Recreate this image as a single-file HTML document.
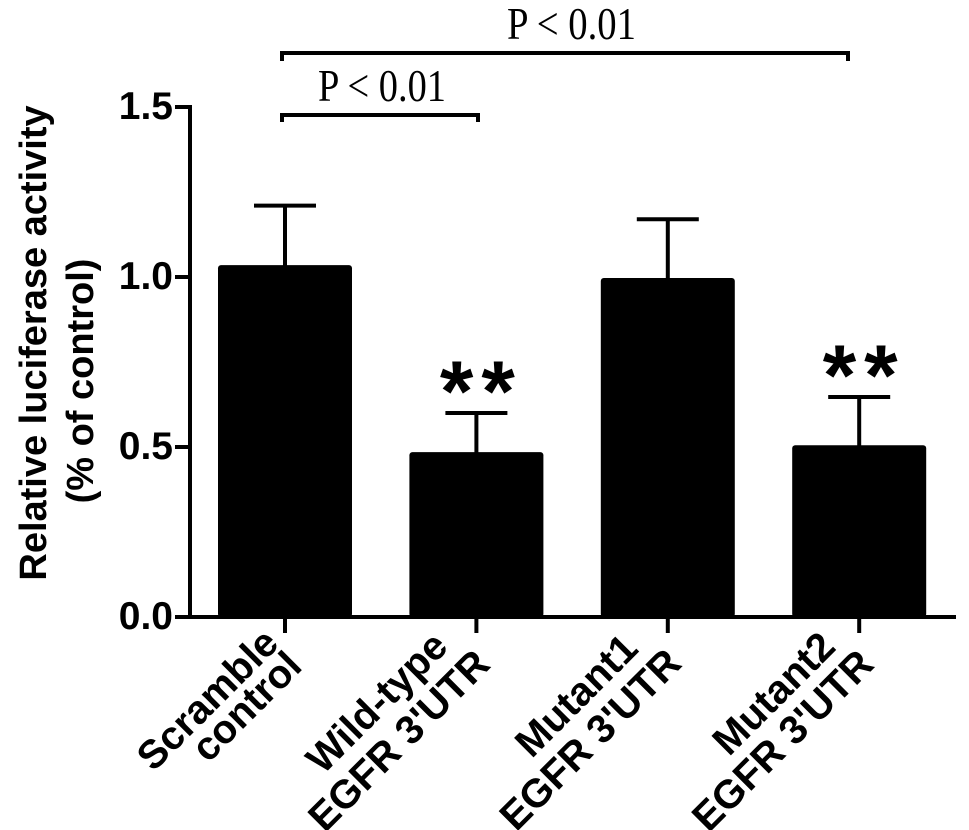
<!DOCTYPE html>
<html><head><meta charset="utf-8"><style>
html,body{margin:0;padding:0;background:#fff;}
svg{display:block;}
</style></head><body>
<svg id="chart" width="969" height="830" viewBox="0 0 969 830" xmlns="http://www.w3.org/2000/svg"></svg>
<script>
const categories = [["Scramble","control"],["Wild-type","EGFR 3'UTR"],["Mutant1","EGFR 3'UTR"],["Mutant2","EGFR 3'UTR"]];
const means = [1.035, 0.485, 0.997, 0.505];
const errors = [0.175, 0.115, 0.173, 0.142];
const significant = [false, true, false, true];
const yTicks = [0, 0.5, 1.0, 1.5];
const yTickLabels = ["0.0","0.5","1.0","1.5"];

const NS = "http://www.w3.org/2000/svg";
const svg = document.getElementById('chart');
const y0 = 617, pxPerUnit = 340;
const yScale = v => y0 - v * pxPerUnit;
const xScale = i => 285 + i * 191.4;
const barW = 134;
function mk(tag, attrs, text){
  const e = document.createElementNS(NS, tag);
  for (const k in attrs) e.setAttribute(k, attrs[k]);
  if (text !== undefined) e.textContent = text;
  svg.appendChild(e); return e;
}
means.forEach((m, i) => {
  const cx = xScale(i);
  const top = yScale(m), eTop = yScale(m + errors[i]);
  const ln = mk('line', {x1:cx, x2:cx, y1:top+2, y2:eTop, stroke:'#000','stroke-width':4});
  
  
  const cap = mk('line', {x1:cx-31, x2:cx+31, y1:eTop, y2:eTop, stroke:'#000','stroke-width':4});
  
  
  const b = mk('rect', {x:cx-barW/2, y:top, width:barW, height:y0-top, rx:3, fill:'#000'});
  
  
  if (significant[i]) {
    const s = mk('text', {x:cx+5, y:eTop+8, 'text-anchor':'middle', 'font-family':'"Liberation Sans", sans-serif', 'font-weight':'bold', 'font-size':86, 'letter-spacing':8}, '**');
    
    
  }
});
const ya = mk('line', {x1:190, x2:190, y1:105, y2:619, stroke:'#000','stroke-width':4});


const xa = mk('line', {x1:175, x2:956, y1:617, y2:617, stroke:'#000','stroke-width':4});


yTicks.forEach((v, i) => {
  const y = yScale(v);
  const t = mk('line', {x1:175, x2:190, y1:y, y2:y, stroke:'#000','stroke-width':4});
  
  
  const l = mk('text', {x:173, y:y+12, 'text-anchor':'end', 'font-family':'"Liberation Sans", sans-serif', 'font-weight':'bold', 'font-size':39}, yTickLabels[i]);
  
  
});
const line1Off = [[-68,709],[-90,712],[-82,705],[-76,703]];
const line2Off = [[-29,716],[-68,750],[-68,749],[-67,750]];
categories.forEach((c, i) => {
  const cx = xScale(i);
  const t = mk('line', {x1:cx, x2:cx, y1:617, y2:633, stroke:'#000','stroke-width':4});
  
  
  [line1Off[i], line2Off[i]].forEach((o, j) => {
    const px = cx + o[0], py = o[1];
    const l = mk('text', {x:px, y:py, transform:`rotate(-45 ${px} ${py})`, 'text-anchor':'middle', 'font-family':'"Liberation Sans", sans-serif', 'font-weight':'bold', 'font-size':40}, c[j]);
    
    
  });
});
const t1 = mk('text', {x:46, y:343, transform:'rotate(-90 46 343)', 'text-anchor':'middle', 'font-family':'"Liberation Sans", sans-serif', 'font-weight':'bold', 'font-size':38}, 'Relative luciferase activity');


const t2 = mk('text', {x:93, y:381, transform:'rotate(-90 93 381)', 'text-anchor':'middle', 'font-family':'"Liberation Sans", sans-serif', 'font-weight':'bold', 'font-size':38}, '(% of control)');


const br1 = mk('path', {d:'M282 122 V115 H478 V122', fill:'none', stroke:'#000','stroke-width':4});


const p1 = mk('text', {x:318, y:101, textLength:128, lengthAdjust:'spacingAndGlyphs', 'font-family':'"Liberation Serif", serif', 'font-size':46}, 'P < 0.01');


const br2 = mk('path', {d:'M282 61 V53 H848 V61', fill:'none', stroke:'#000','stroke-width':4});


const p2 = mk('text', {x:507, y:39, textLength:129, lengthAdjust:'spacingAndGlyphs', 'font-family':'"Liberation Serif", serif', 'font-size':46}, 'P < 0.01');


</script>
</body></html>
